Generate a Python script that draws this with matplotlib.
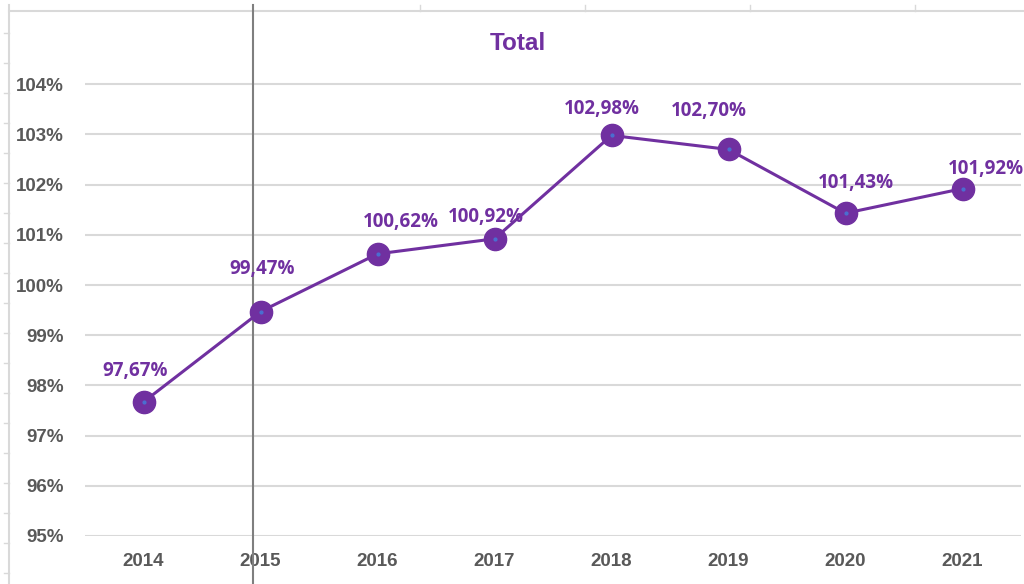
import matplotlib
matplotlib.use("Agg")
import matplotlib.pyplot as plt
from matplotlib.lines import Line2D

# data
years = ["2014", "2015", "2016", "2017", "2018", "2019", "2020", "2021"]
total = [97.67, 99.47, 100.62, 100.92, 102.98, 102.70, 101.43, 101.92]
y_ticks = [95, 96, 97, 98, 99, 100, 101, 102, 103, 104]

# label offsets in pixels (dx, dy)
label_off = [(-8, 31), (2, 43), (23, 32), (-9, 22), (-10, 26), (-20, 38), (10, 30), (23, 20)]

purple = "#7030A0"
grey_txt = "#595959"

fig = plt.figure(figsize=(10.24, 5.84), dpi=100)
W, H = 1024, 584
ax = fig.add_axes([85 / W, (H - 536) / H, (1021 - 85) / W, (536 - 34) / H])

x = list(range(len(years)))
ax.plot(x, total, color=purple, lw=2.2, marker="o", ms=16,
        markerfacecolor=purple, markeredgecolor=purple, zorder=3)
ax.plot(x, total, ls="none", marker="o", ms=2, color="#4a6fd0", zorder=4)

for i, v in enumerate(total):
    lab = ("%.2f%%" % v).replace(".", ",")
    ax.annotate(lab, (i, v), xytext=label_off[i], textcoords="offset pixels",
                ha="center", va="center", color=purple, fontsize=13.5,
                fontweight="bold", family="Open Sans", zorder=5)

ax.set_xlim(-0.5, len(years) - 0.5)
ax.set_ylim(95, 105)
ax.set_yticks(y_ticks)
ax.set_yticklabels(["%d%%" % t for t in y_ticks])
ax.set_xticks(x)
ax.set_xticklabels(years)
ax.grid(axis="y", color="#d9d9d9", lw=1.5, zorder=0)
ax.set_axisbelow(True)
for s in ax.spines.values():
    s.set_visible(False)
ax.tick_params(length=0)
ax.tick_params(axis="y", pad=15)
ax.tick_params(axis="x", pad=12)
for t in ax.get_xticklabels() + ax.get_yticklabels():
    t.set_fontfamily("Liberation Sans")
    t.set_fontweight("bold")
    t.set_fontsize(13.5)
    t.set_color(grey_txt)

fig.text(518 / W, 1 - 44 / H, "Total", ha="center", va="center", color=purple,
         fontsize=17.5, fontweight="bold", family="Liberation Sans")

# sheet borders around the chart
ax.add_line(Line2D([9 / W, 1], [1 - 11 / H, 1 - 11 / H], transform=fig.transFigure,
                   color="#d9d9d9", lw=1.5, clip_on=False, zorder=0))
ax.add_line(Line2D([9 / W, 9 / W], [1 - 5 / H, 0], transform=fig.transFigure,
                   color="#d9d9d9", lw=1.5, clip_on=False, zorder=0))
for yy in range(33, 584, 30):
    ax.add_line(Line2D([4 / W, 9 / W], [1 - yy / H, 1 - yy / H], transform=fig.transFigure,
                       color="#d9d9d9", lw=1, clip_on=False, zorder=0))
for xx in [420, 585, 750, 915]:
    ax.add_line(Line2D([xx / W, xx / W], [1 - 5 / H, 1 - 11 / H], transform=fig.transFigure,
                       color="#d9d9d9", lw=1, clip_on=False, zorder=0))
ax.add_line(Line2D([253 / W, 253 / W], [1 - 5 / H, 0], transform=fig.transFigure,
                   color="#7f7f7f", lw=1.5, clip_on=False, zorder=2))

fig.savefig("out.png", dpi=100)
